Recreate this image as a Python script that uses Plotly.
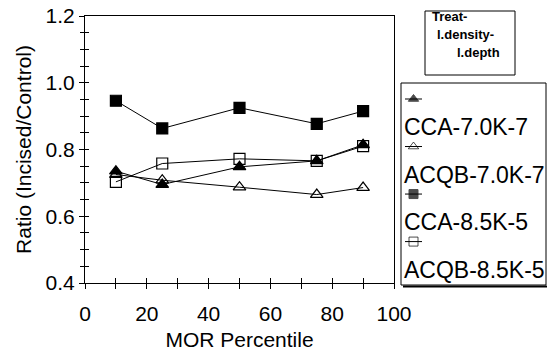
import plotly.graph_objects as go

# ---- data ----
percentiles = [10, 25, 50, 75, 90]
series_names = ["CCA-7.0K-7", "ACQB-7.0K-7", "CCA-8.5K-5", "ACQB-8.5K-5"]
cca_70k_7 = [0.735, 0.695, 0.748, 0.766, 0.814]
acqb_70k_7 = [0.725, 0.708, 0.687, 0.665, 0.686]
cca_85k_5 = [0.946, 0.863, 0.925, 0.877, 0.915]
acqb_85k_5 = [0.703, 0.758, 0.772, 0.766, 0.810]
series_values = [cca_70k_7, acqb_70k_7, cca_85k_5, acqb_85k_5]
legend_title_lines = ["Treat-", "l.density-", "l.depth"]

# ---- styles ----
symbols = ["triangle-up", "triangle-up-open", "square", "square-open"]
marker_sizes = [11, 11, 11, 11]
FONT = "Liberation Sans, Arial, sans-serif"

W, H = 548, 351
ML, MR, MT, MB = 85, 0, 16, 68
plot_w = W - ML - MR
plot_h = H - MT - MB
def px(xp):
    return (xp - ML) / plot_w
def py(yp):
    return (H - MB - yp) / plot_h

fig = go.Figure()
for name, vals, sym, ms in zip(series_names, series_values, symbols, marker_sizes):
    fig.add_trace(go.Scatter(
        x=percentiles, y=vals, name=name, mode="lines+markers",
        line=dict(color="black", width=1),
        marker=dict(symbol=sym, size=ms, color="black",
                    line=dict(color="black", width=1.2)),
        showlegend=False, xaxis="x", yaxis="y"))

# legend keys (custom, symbol above label)
key_y0, key_step = py(99), 0.178
txt_y0 = py(127)
for i, (name, sym) in enumerate(zip(series_names, symbols)):
    ky = key_y0 - i * key_step
    fig.add_trace(go.Scatter(
        x=[0, 0.5, 1], y=[ky, ky, ky], mode="lines+markers",
        line=dict(color="black", width=1),
        marker=dict(symbol=sym, size=[0, 9, 0], color="black",
                    line=dict(color="black", width=1)),
        showlegend=False, hoverinfo="skip", xaxis="x2", yaxis="y2"))
    fig.add_annotation(x=px(402), y=txt_y0 - i * key_step, xref="paper", yref="paper",
                       text=name, showarrow=False, xanchor="left", yanchor="middle",
                       font=dict(family=FONT, size=23, color="black"))

x_dom_end = px(394)
axis_common = dict(showgrid=False, zeroline=False, showline=True, linecolor="black",
                   linewidth=1, ticks="outside", tickcolor="black", tickwidth=1,
                   tickfont=dict(family=FONT, size=21, color="black"), mirror=True)

fig.update_layout(
    width=W, height=H, margin=dict(l=ML, r=MR, t=MT, b=MB, autoexpand=False),
    paper_bgcolor="white", plot_bgcolor="white",
    xaxis=dict(domain=[0, x_dom_end], range=[0, 100], dtick=20, ticklen=5,
               ticklabelstandoff=7,
               minor=dict(dtick=10, ticks="outside", ticklen=5, tickcolor="black"),
               title=dict(text="MOR Percentile", font=dict(family=FONT, size=21, color="black"),
                          standoff=10),
               **axis_common),
    yaxis=dict(range=[0.4, 1.2], dtick=0.2, tickformat=".1f", ticklen=5,
               minor=dict(dtick=0.05, ticks="outside", ticklen=4, tickcolor="black"),
               title=dict(text="Ratio (Incised/Control)", font=dict(family=FONT, size=21, color="black"),
                          standoff=8),
               **axis_common),
    xaxis3=dict(domain=[0, x_dom_end], range=[0, 100], overlaying="x", anchor="y",
                showgrid=False, zeroline=False, showticklabels=False,
                ticks="inside", ticklen=5, dtick=10, tickcolor="black"),
    yaxis3=dict(range=[0.4, 1.2], overlaying="y", anchor="x", showgrid=False, zeroline=False,
                showticklabels=False, ticks="inside", ticklen=4, dtick=0.05, tickcolor="black"),
    xaxis2=dict(domain=[px(405), px(422)], range=[0, 1], visible=False, anchor="y2"),
    yaxis2=dict(domain=[0, 1], range=[0, 1], visible=False, anchor="x2"),
    showlegend=False,
)
# dummy traces to activate overlay axes
fig.add_trace(go.Scatter(x=[None], y=[None], xaxis="x3", yaxis="y3", showlegend=False,
                         hoverinfo="skip"))

# legend boxes
fig.add_shape(type="rect", xref="paper", yref="paper",
              x0=px(401), x1=px(546), y0=py(285), y1=py(83),
              line=dict(color="black", width=1))
fig.add_shape(type="line", xref="paper", yref="paper",
              x0=px(403), x1=px(547), y0=py(286.5), y1=py(286.5),
              line=dict(color="black", width=2))
fig.add_shape(type="rect", xref="paper", yref="paper",
              x0=px(425), x1=px(515), y0=py(75), y1=py(11),
              line=dict(color="black", width=1))
title_x = [430, 435, 455]
title_y = [16, 34, 52]
for line_text, tx, ty in zip(legend_title_lines, title_x, title_y):
    fig.add_annotation(x=px(tx), y=py(ty), xref="paper", yref="paper",
                       text=line_text, showarrow=False, xanchor="left", yanchor="middle",
                       font=dict(family=FONT, size=13, color="black", weight="bold"))

fig.write_html("out.html")
